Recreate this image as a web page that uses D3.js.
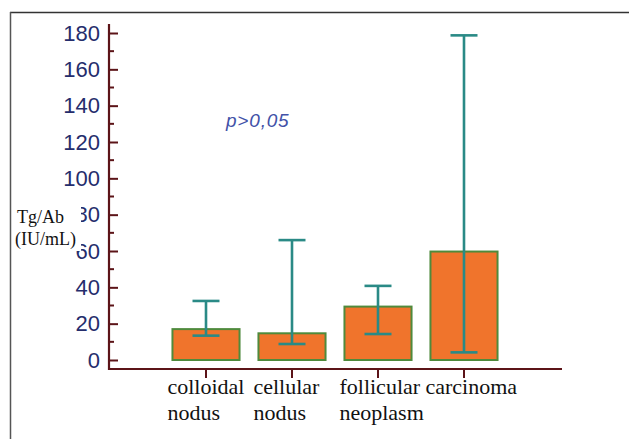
<!DOCTYPE html>
<html>
<head>
<meta charset="utf-8">
<script src="https://cdn.jsdelivr.net/npm/d3@7"></script>
<style>
  body { margin: 0; background: #fff; }
  svg { display: block; }
</style>
</head>
<body>
<div id="chart"></div>
<script>
const categories = [["colloidal", "nodus"], ["cellular", "nodus"], ["follicular", "neoplasm"], ["carcinoma"]];
const means = [17, 14.7, 29.4, 59.7];
const lower = [13.4, 8.8, 14.3, 4.2];
const upper = [32.5, 66, 40.8, 178.7];
const yTicks = [0, 20, 40, 60, 80, 100, 120, 140, 160, 180];
const yMinor = [10, 30, 50, 70, 90, 110, 130, 150, 170];
const pText = "p>0,05";
const yTitle = ["Tg/Ab", "(IU/mL)"];

const width = 629;
const height = 439;
const axisColor = "#5c1418";
const barFill = "#f0742c";
const barStroke = "#4f8a3c";
const errColor = "#2a8a86";

const svg = d3.select("#chart")
  .append("svg")
  .attr("width", width)
  .attr("height", height);

// frame
svg.append("line")
  .attr("x1", 10).attr("x2", width)
  .attr("y1", 12.5).attr("y2", 12.5)
  .attr("stroke", "#333").attr("stroke-width", 1.5);
svg.append("line")
  .attr("x1", 10.5).attr("x2", 10.5)
  .attr("y1", 12).attr("y2", height)
  .attr("stroke", "#555").attr("stroke-width", 1.5);

const keys = categories.map((d) => d.join(" "));

const x = d3.scaleBand()
  .domain(keys)
  .range([163, 507])
  .paddingInner(0.22)
  .paddingOuter(0.11);

const y = d3.scaleLinear()
  .domain([0, 180])
  .range([360, 33]);

// y axis
const yAxis = d3.axisLeft(y)
  .tickValues(yTicks)
  .tickSizeInner(-9)
  .tickSizeOuter(0)
  .tickPadding(9);

const gy = svg.append("g")
  .attr("transform", "translate(109,0)")
  .call(yAxis);
gy.select(".domain").remove();
gy.selectAll(".tick line").attr("stroke", axisColor).attr("stroke-width", 2);
gy.selectAll(".tick text")
  .attr("fill", "#252d6c")
  .style("font-family", "'Liberation Sans', Arial, sans-serif")
  .style("font-size", "22px");

gy.selectAll(".minor")
  .data(yMinor)
  .enter()
  .append("line")
  .attr("class", "minor")
  .attr("x1", 0).attr("x2", 5)
  .attr("y1", (d) => y(d)).attr("y2", (d) => y(d))
  .attr("stroke", axisColor).attr("stroke-width", 2);

svg.append("line")
  .attr("x1", 109).attr("x2", 109)
  .attr("y1", 24).attr("y2", 370)
  .attr("stroke", axisColor).attr("stroke-width", 2.2);

// x axis
svg.append("line")
  .attr("x1", 108).attr("x2", 562)
  .attr("y1", 369).attr("y2", 369)
  .attr("stroke", axisColor).attr("stroke-width", 2.2);

svg.selectAll(".xtick")
  .data(keys)
  .enter()
  .append("line")
  .attr("class", "xtick")
  .attr("x1", (d) => x(d) + x.bandwidth() / 2)
  .attr("x2", (d) => x(d) + x.bandwidth() / 2)
  .attr("y1", 369).attr("y2", 378)
  .attr("stroke", axisColor).attr("stroke-width", 2);

const labels = svg.selectAll(".xlabel")
  .data(categories)
  .enter()
  .append("text")
  .attr("class", "xlabel")
  .attr("y", 394)
  .style("font-family", "'Liberation Serif', 'Times New Roman', serif")
  .style("font-size", "22px")
  .attr("fill", "#111");

labels.selectAll("tspan")
  .data((d, i) => d.map((t) => ({ t, key: keys[i] })))
  .enter()
  .append("tspan")
  .attr("x", (d) => x(d.key) - 5)
  .attr("dy", (d, j) => (j === 0 ? 0 : 26))
  .text((d) => d.t);

// bars
svg.selectAll(".bar")
  .data(means)
  .enter()
  .append("rect")
  .attr("class", "bar")
  .attr("x", (d, i) => x(keys[i]))
  .attr("y", (d) => y(d))
  .attr("width", x.bandwidth())
  .attr("height", (d) => y(0) - y(d))
  .attr("fill", barFill)
  .attr("stroke", barStroke)
  .attr("stroke-width", 2);

// error bars
const cap = 13.5;
const err = svg.selectAll(".err")
  .data(keys)
  .enter()
  .append("g")
  .attr("class", "err")
  .attr("stroke", errColor)
  .attr("stroke-width", 2.6);

err.append("line")
  .attr("x1", (d) => x(d) + x.bandwidth() / 2)
  .attr("x2", (d) => x(d) + x.bandwidth() / 2)
  .attr("y1", (d, i) => y(lower[i]))
  .attr("y2", (d, i) => y(upper[i]));
err.append("line")
  .attr("x1", (d) => x(d) + x.bandwidth() / 2 - cap)
  .attr("x2", (d) => x(d) + x.bandwidth() / 2 + cap)
  .attr("y1", (d, i) => y(upper[i]))
  .attr("y2", (d, i) => y(upper[i]));
err.append("line")
  .attr("x1", (d) => x(d) + x.bandwidth() / 2 - cap)
  .attr("x2", (d) => x(d) + x.bandwidth() / 2 + cap)
  .attr("y1", (d, i) => y(lower[i]))
  .attr("y2", (d, i) => y(lower[i]));

// p value
svg.append("text")
  .attr("x", 226)
  .attr("y", 127)
  .attr("fill", "#4252a8")
  .style("font-family", "'Liberation Sans', Arial, sans-serif")
  .style("font-style", "italic")
  .style("font-size", "19px")
  .style("letter-spacing", "0.8px")
  .text(pText);

// y title on white box (covers part of tick labels as in original)
svg.append("rect")
  .attr("x", 13).attr("y", 205)
  .attr("width", 68).attr("height", 46)
  .attr("fill", "#fff");

svg.append("text")
  .attr("y", 223)
  .style("font-family", "'Liberation Serif', 'Times New Roman', serif")
  .style("font-size", "18px")
  .attr("fill", "#111")
  .selectAll("tspan")
  .data(yTitle)
  .enter()
  .append("tspan")
  .attr("x", (d, i) => (i === 0 ? 17 : 15))
  .attr("dy", (d, i) => (i === 0 ? 0 : 22))
  .text((d) => d);
</script>
</body>
</html>
